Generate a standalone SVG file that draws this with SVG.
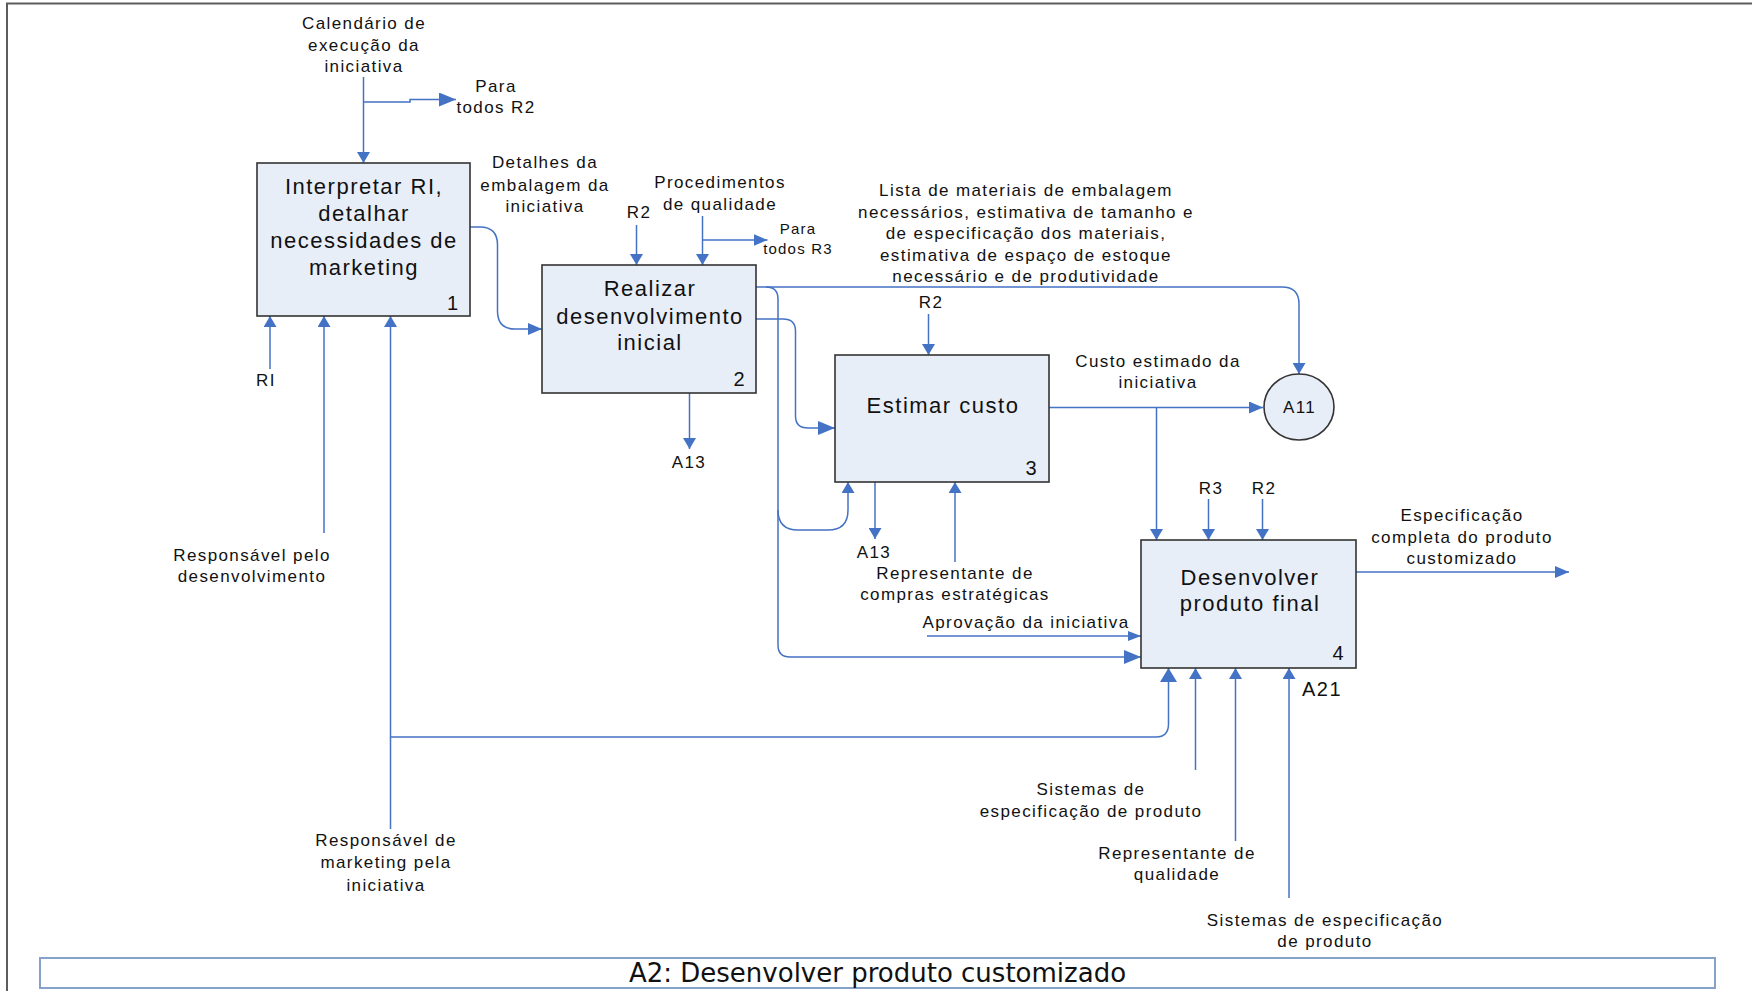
<svg xmlns="http://www.w3.org/2000/svg" width="1752" height="991" viewBox="0 0 1752 991">
  <style>
    .frame { fill: none; stroke: #5c5c5c; stroke-width: 2; }
    .title-box { fill: #ffffff; stroke: #86a2c8; stroke-width: 2; }
    .title { font-family: "DejaVu Sans", "Liberation Sans", sans-serif; font-size: 26px; fill: #111; text-anchor: middle; }
    .box { fill: #e8eef8; stroke: #333333; stroke-width: 1.6; }
    .btext { font-family: "Liberation Sans", Arial, sans-serif; font-size: 22px; letter-spacing: 1.5px; fill: #111; text-anchor: middle; }
    .num { font-family: "Liberation Sans", Arial, sans-serif; font-size: 20px; fill: #111; text-anchor: middle; }
    .lbl { font-family: "Liberation Sans", Arial, sans-serif; font-size: 17px; letter-spacing: 1.4px; fill: #111; text-anchor: middle; }
    .lbl-s { font-family: "Liberation Sans", Arial, sans-serif; font-size: 15px; letter-spacing: 1.2px; fill: #111; text-anchor: middle; }
    .wire { fill: none; stroke: #4472c4; stroke-width: 1.5; }
    .head { fill: #4472c4; }
  </style>
  <defs>
    <!-- arrowheads: tip sits at the end of the path -->
    <marker id="av" markerUnits="userSpaceOnUse" markerWidth="11" markerHeight="13" refX="11" refY="6.5" orient="auto">
      <path class="head" d="M0,0 L11,6.5 L0,13 Z"/>
    </marker>
    <marker id="avL" markerUnits="userSpaceOnUse" markerWidth="14" markerHeight="17" refX="14" refY="8.5" orient="auto">
      <path class="head" d="M0,0 L14,8.5 L0,17 Z"/>
    </marker>
    <marker id="ah" markerUnits="userSpaceOnUse" markerWidth="14" markerHeight="12" refX="14" refY="6" orient="auto">
      <path class="head" d="M0,0 L14,6 L0,12 Z"/>
    </marker>
    <marker id="ahL" markerUnits="userSpaceOnUse" markerWidth="17" markerHeight="14" refX="17" refY="7" orient="auto">
      <path class="head" d="M0,0 L17,7 L0,14 Z"/>
    </marker>
    <marker id="ahS" markerUnits="userSpaceOnUse" markerWidth="13" markerHeight="10" refX="13" refY="5" orient="auto">
      <path class="head" d="M0,0 L13,5 L0,10 Z"/>
    </marker>
  </defs>

  <rect width="1752" height="991" fill="#ffffff"/>
  <rect class="frame" x="7" y="3.5" width="1760" height="1000"/>

  <!-- title bar -->
  <g id="title">
    <rect class="title-box" x="40" y="958" width="1675" height="30"/>
    <text class="title" x="877.5" y="981.5">A2: Desenvolver produto customizado</text>
  </g>

  <!-- connectors -->
  <g id="connectors">
    <path class="wire" d="M363.5,77 V163" marker-end="url(#av)"/>
    <path class="wire" d="M363.5,102 H410 V99.5 H456" marker-end="url(#ahL)"/>
    <path class="wire" d="M470,227 H480 Q497.5,227 497.5,245 V311 Q497.5,329 515,329 H542" marker-end="url(#ah)"/>
    <path class="wire" d="M636.5,225 V265" marker-end="url(#av)"/>
    <path class="wire" d="M702.5,216 V265" marker-end="url(#av)"/>
    <path class="wire" d="M702.5,240 H767.5" marker-end="url(#ah)"/>
    <path class="wire" d="M756,287 H1282 Q1299,287 1299,304 V374" marker-end="url(#av)"/>
    <path class="wire" d="M766,287 Q778,287 778,299 V645 Q778,657 790,657 H1141" marker-end="url(#ahL)"/>
    <path class="wire" d="M778,510 Q778,530 798,530 H828 Q848,530 848,510 V482" marker-end="url(#av)"/>
    <path class="wire" d="M756,319 H783 Q795.5,319 795.5,331 V416 Q795.5,428 808,428 H835" marker-end="url(#ahL)"/>
    <path class="wire" d="M689.5,393 V449" marker-end="url(#av)"/>
    <path class="wire" d="M928.5,314 V355" marker-end="url(#av)"/>
    <path class="wire" d="M1049,407.5 H1263" marker-end="url(#ah)"/>
    <path class="wire" d="M1156.5,407.5 V540" marker-end="url(#av)"/>
    <path class="wire" d="M1208.5,499 V540" marker-end="url(#av)"/>
    <path class="wire" d="M1262.5,499 V540" marker-end="url(#av)"/>
    <path class="wire" d="M1356,572 H1569" marker-end="url(#ah)"/>
    <path class="wire" d="M875,482 V539" marker-end="url(#av)"/>
    <path class="wire" d="M955,562 V482" marker-end="url(#av)"/>
    <path class="wire" d="M927,636 H1141" marker-end="url(#ahS)"/>
    <path class="wire" d="M390.5,829 V316" marker-end="url(#av)"/>
    <path class="wire" d="M390.5,737 H1156 Q1168.5,737 1168.5,724 V668" marker-end="url(#avL)"/>
    <path class="wire" d="M324,533 V316" marker-end="url(#av)"/>
    <path class="wire" d="M270,369 V316" marker-end="url(#av)"/>
    <path class="wire" d="M1195.5,770 V668" marker-end="url(#av)"/>
    <path class="wire" d="M1235.5,841 V668" marker-end="url(#av)"/>
    <path class="wire" d="M1289,898 V668" marker-end="url(#av)"/>
  </g>

  <!-- connector labels -->
  <g id="labels">
    <text class="lbl" x="364" y="29">Calendário de</text>
    <text class="lbl" x="364" y="50.5">execução da</text>
    <text class="lbl" x="364" y="72">iniciativa</text>
    <text class="lbl" x="496" y="92">Para</text>
    <text class="lbl" x="496" y="113">todos R2</text>
    <text class="lbl" x="545" y="168">Detalhes da</text>
    <text class="lbl" x="545" y="190.5">embalagem da</text>
    <text class="lbl" x="545" y="212">iniciativa</text>
    <text class="lbl" x="639" y="218">R2</text>
    <text class="lbl" x="720" y="188">Procedimentos</text>
    <text class="lbl" x="720" y="209.5">de qualidade</text>
    <text class="lbl-s" x="798" y="234">Para</text>
    <text class="lbl-s" x="798" y="253.5">todos R3</text>
    <text class="lbl" x="1026" y="196">Lista de materiais de embalagem</text>
    <text class="lbl" x="1026" y="217.6">necessários, estimativa de tamanho e</text>
    <text class="lbl" x="1026" y="239.2">de especificação dos materiais,</text>
    <text class="lbl" x="1026" y="260.8">estimativa de espaço de estoque</text>
    <text class="lbl" x="1026" y="282.4">necessário e de produtividade</text>
    <text class="lbl" x="931" y="308">R2</text>
    <text class="lbl" x="1158" y="367">Custo estimado da</text>
    <text class="lbl" x="1158" y="388">iniciativa</text>
    <text class="lbl" x="689" y="467.5">A13</text>
    <text class="lbl" x="1211" y="493.5">R3</text>
    <text class="lbl" x="1264" y="493.5">R2</text>
    <text class="lbl" x="1462" y="521">Especificação</text>
    <text class="lbl" x="1462" y="542.5">completa do produto</text>
    <text class="lbl" x="1462" y="563.5">customizado</text>
    <text class="lbl" x="874" y="557.5">A13</text>
    <text class="lbl" x="955" y="578.5">Representante de</text>
    <text class="lbl" x="955" y="600">compras estratégicas</text>
    <text class="lbl" x="1026" y="628">Aprovação da iniciativa</text>
    <text class="lbl" x="266" y="386">RI</text>
    <text class="lbl" x="252" y="560.5">Responsável pelo</text>
    <text class="lbl" x="252" y="581.5">desenvolvimento</text>
    <text class="lbl" x="386" y="846">Responsável de</text>
    <text class="lbl" x="386" y="868">marketing pela</text>
    <text class="lbl" x="386" y="890.5">iniciativa</text>
    <text class="lbl" x="1091" y="794.5">Sistemas de</text>
    <text class="lbl" x="1091" y="816.5">especificação de produto</text>
    <text class="lbl" x="1177" y="858.5">Representante de</text>
    <text class="lbl" x="1177" y="880">qualidade</text>
    <text class="lbl" x="1325" y="926">Sistemas de especificação</text>
    <text class="lbl" x="1325" y="946.5">de produto</text>
  </g>

  <!-- activity boxes -->
  <g id="node-1">
    <rect class="box" x="257" y="163" width="213" height="153"/>
    <text class="btext" x="364" y="193.5">Interpretar RI,</text>
    <text class="btext" x="364" y="220.5">detalhar</text>
    <text class="btext" x="364" y="247.5">necessidades de</text>
    <text class="btext" x="364" y="274.5">marketing</text>
    <text class="num" x="452.5" y="310">1</text>
  </g>
  <g id="node-2">
    <rect class="box" x="542" y="265" width="214" height="128"/>
    <text class="btext" x="650" y="296">Realizar</text>
    <text class="btext" x="650" y="324">desenvolvimento</text>
    <text class="btext" x="650" y="350">inicial</text>
    <text class="num" x="739" y="386">2</text>
  </g>
  <g id="node-3">
    <rect class="box" x="835" y="355" width="214" height="127"/>
    <text class="btext" x="943" y="413">Estimar custo</text>
    <text class="num" x="1031" y="475">3</text>
  </g>
  <g id="node-4">
    <rect class="box" x="1141" y="540" width="215" height="128"/>
    <text class="btext" x="1250" y="585">Desenvolver</text>
    <text class="btext" x="1250" y="611">produto final</text>
    <text class="num" x="1338" y="660">4</text>
    <text class="num" x="1322" y="696" style="letter-spacing:1.5px">A21</text>
  </g>
  <g id="node-A11">
    <ellipse class="box" cx="1299" cy="407" rx="35" ry="33"/>
    <text class="lbl" x="1299.5" y="413">A11</text>
  </g>
</svg>
